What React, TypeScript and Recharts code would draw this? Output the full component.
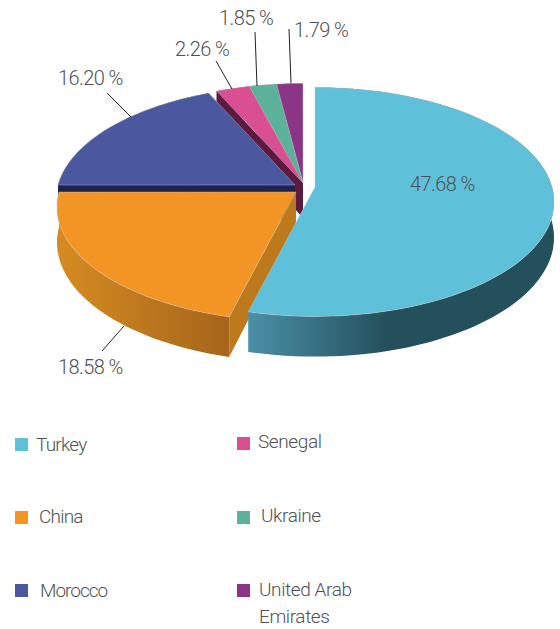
import { PieChart, Pie, Legend } from "recharts";

const countries = ["Turkey", "China", "Morocco", "Senegal", "Ukraine", "United Arab Emirates"];
const shares = [47.68, 18.58, 16.2, 2.26, 1.85, 1.79];
const shareLabels = ["47.68 %", "18.58 %", "16.20 %", "2.26 %", "1.85 %", "1.79 %"];

const topColors = ["#5fc0da", "#f29525", "#4b579e", "#d94f92", "#5bb199", "#8c3587"];
const cutColors = ["#3f7f92", "#bd7a1c", "#1c2350", "#5c1a3e", "#2a5a4c", "#3f1a48"];
const wallFrom = ["#4a90a8", "#d68b22", "#2a3466", "#8a2f60", "#3c7d6a", "#5c2358"];
const wallTo = ["#24505c", "#a5651a", "#2a3466", "#8a2f60", "#3c7d6a", "#5c2358"];

// how far each slice is pulled out of the pie
const explode = [[15, 0], [-4, 5], [-5, -2], [3, -4], [3, -4], [3, -4]];

// label text anchor (left, baseline) and leader line
const labelSpots = [
  { x: 410, y: 191, line: null },
  { x: 58, y: 374, line: [102, 351, 124, 326] },
  { x: 58, y: 85, line: [107, 93, 131, 117] },
  { x: 175, y: 56, line: [216, 61, 232, 89] },
  { x: 219, y: 25, line: [255, 32, 257, 86] },
  { x: 294, y: 37, line: [289, 29, 291, 83] },
];

const legendSpots = [
  { sx: 15, sy: 438, tx: 36, ty: 451, ls: -0.8, lines: ["Turkey"] },
  { sx: 15, sy: 511, tx: 39, ty: 523, ls: -0.8, lines: ["China"] },
  { sx: 15, sy: 584, tx: 40, ty: 597, ls: -1, lines: ["Morocco"] },
  { sx: 237, sy: 437, tx: 258, ty: 448, ls: -0.4, lines: ["Senegal"] },
  { sx: 237, sy: 511, tx: 261, ty: 522, ls: -0.4, lines: ["Ukraine"] },
  { sx: 237, sy: 584, tx: 259, ty: 596, ls: -0.4, lines: ["United Arab", "Emirates"] },
];

const FONT = "Roboto, sans-serif";
const TEXT = "#505155";
const SQUASH = 0.475;
const PERSPECTIVE = 0.13;
const DEPTH = 35;

const pieData = countries
  .map((name, i) => ({ name, value: shares[i], idx: i, fill: topColors[i] }))
  .reverse();

// tilt a point on the flat pie into the 3d view
const project = (cx: number, cy: number, r: number, deg: number) => {
  const a = (deg * Math.PI) / 180;
  const s = 1 / (1 + PERSPECTIVE * Math.sin(a));
  return {
    x: cx + r * Math.cos(a) * s,
    y: cy - r * SQUASH * Math.sin(a) * s,
    d: DEPTH * s,
  };
};

const pathOf = (pts: number[][]) =>
  "M" + pts.map((p) => p[0].toFixed(1) + "," + p[1].toFixed(1)).join("L") + "Z";

const Slice3D = (props: any) => {
  const { cx, cy, outerRadius, startAngle, endAngle, payload } = props;
  const i = payload.idx;
  const ox = cx + explode[i][0];
  const oy = cy + explode[i][1];
  const arc = [];
  const n = Math.max(6, Math.ceil(Math.abs(endAngle - startAngle) / 2));
  for (let k = 0; k <= n; k++) {
    arc.push(project(ox, oy, outerRadius, startAngle + ((endAngle - startAngle) * k) / n));
  }
  const top = [[ox, oy], ...arc.map((p) => [p.x, p.y])];
  const wall = [
    ...arc.map((p) => [p.x, p.y]),
    ...arc.slice().reverse().map((p) => [p.x, p.y + p.d]),
  ];
  const last = arc[arc.length - 1];
  const cut = [[ox, oy], [last.x, last.y], [last.x, last.y + last.d], [ox, oy + DEPTH]];
  const gid = "wall-" + i;
  return (
    <g>
      <defs>
        <linearGradient id={gid} x1="0" x2="1" y1="0" y2="0">
          <stop offset="0%" stopColor={wallFrom[i]} />
          <stop offset={i === 0 ? "45%" : "100%"} stopColor={wallTo[i]} />
        </linearGradient>
      </defs>
      <path d={pathOf(wall)} fill={`url(#${gid})`} />
      <path d={pathOf(cut)} fill={cutColors[i]} />
      <path d={pathOf(top)} fill={topColors[i]} stroke="#c9c9c9" strokeWidth={0.4} />
    </g>
  );
};

const SliceLabel = (props: any) => {
  const i = props.payload ? props.payload.idx : props.idx;
  const spot = labelSpots[i];
  return (
    <g>
      {spot.line && (
        <line
          x1={spot.line[0]}
          y1={spot.line[1]}
          x2={spot.line[2]}
          y2={spot.line[3]}
          stroke="#222"
          strokeWidth={1}
        />
      )}
      <text
        x={spot.x}
        y={spot.y}
        fontFamily={FONT}
        fontWeight={300}
        fontSize={20}
        letterSpacing={-0.6}
        fill={TEXT}
      >
        {shareLabels[i]}
      </text>
    </g>
  );
};

const LegendBlock = () => (
  <svg width={560} height={629} style={{ display: "block" }}>
    {legendSpots.map((s, i) => (
      <g key={countries[i]}>
        <rect x={s.sx} y={s.sy} width={13} height={13} fill={topColors[i]} />
        {s.lines.map((t, k) => (
          <text
            key={t}
            x={s.tx}
            y={s.ty + k * 27}
            fontFamily={FONT}
            fontWeight={300}
            fontSize={19}
            letterSpacing={s.ls}
            fill={TEXT}
          >
            {t}
          </text>
        ))}
      </g>
    ))}
  </svg>
);

export default function App() {
  return (
    <div style={{ position: "absolute", left: 0, top: 0, width: 560, height: 629, background: "#fff" }}>
      <PieChart width={560} height={629} margin={{ top: 0, right: 0, bottom: 0, left: 0 }}>
        <Legend
          content={<LegendBlock />}
          wrapperStyle={{ position: "absolute", left: 0, top: 0, width: 560, height: 629, bottom: "auto" }}
        />
        <Pie
          data={pieData}
          dataKey="value"
          nameKey="name"
          cx={300}
          cy={187}
          innerRadius={0}
          outerRadius={237}
          startAngle={90}
          endAngle={450}
          stroke="none"
          shape={Slice3D}
          label={SliceLabel}
          labelLine={false}
          isAnimationActive={false}
        />
      </PieChart>
    </div>
  );
}
